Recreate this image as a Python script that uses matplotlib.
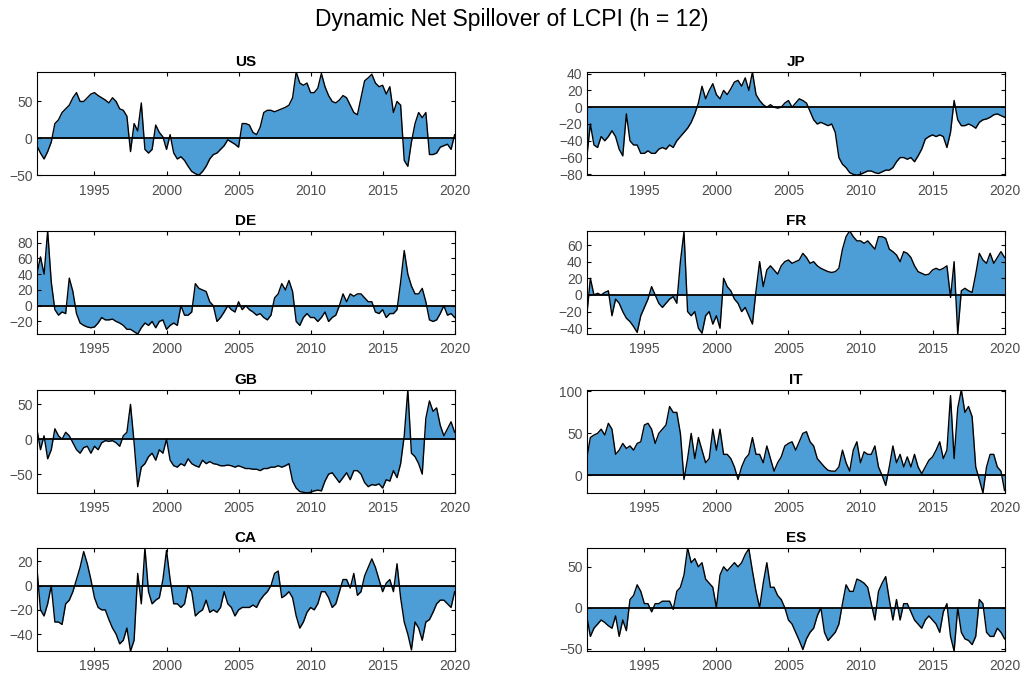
import numpy as np
import matplotlib.pyplot as plt

plt.rcParams['font.family'] = ['Liberation Sans', 'DejaVu Sans']

# quarterly sample points, 1991 .. 2020
years = np.arange(1991, 2020.01, 0.25)

us = [-10, -20, -28, -18, -5, 20, 25, 35, 40, 45, 55, 62, 50, 50, 55, 60, 62, 58, 55, 52,
      48, 55, 50, 40, 38, 30, -18, 20, 10, 48, -15, -20, -15, 18, 8, 2, -15, 5, -20, -28,
      -25, -30, -38, -45, -48, -50, -45, -38, -28, -22, -20, -15, -10, -2, -5, -8, -12, 20, 20, 18,
      8, 5, 15, 35, 38, 38, 36, 38, 40, 42, 45, 55, 90, 75, 72, 75, 62, 62, 68, 88,
      70, 58, 50, 48, 52, 58, 55, 45, 35, 32, 55, 78, 82, 87, 75, 70, 72, 60, 70, 35,
      50, 45, -30, -38, -5, 20, 35, 28, 35, -22, -22, -20, -12, -10, -8, -15, 5]
jp = [-60, -20, -45, -48, -35, -40, -35, -28, -35, -50, -58, -8, -40, -45, -45, -55, -55, -52, -55, -55,
      -50, -48, -50, -45, -48, -40, -35, -30, -25, -18, -8, 5, 25, 10, 20, 28, 15, 10, 20, 15,
      22, 30, 32, 25, 35, 20, 42, 15, 8, 3, 0, 3, 0, -1, 0, 5, 8, 0, 5, 10,
      8, 5, -5, -15, -20, -18, -20, -22, -20, -30, -60, -68, -72, -78, -80, -81, -80, -78, -76, -76,
      -78, -79, -77, -75, -75, -72, -65, -60, -60, -62, -60, -65, -58, -50, -38, -35, -33, -35, -33, -35,
      -48, -30, 8, -15, -22, -22, -20, -22, -25, -18, -15, -14, -12, -9, -8, -10, -12]
de = [40, 62, 40, 95, 30, -5, -12, -8, -10, 35, 18, -10, -22, -25, -27, -28, -27, -22, -15, -18,
      -18, -17, -20, -22, -25, -30, -30, -33, -36, -28, -22, -25, -20, -28, -20, -18, -30, -25, -22, -25,
      0, -12, -12, -8, 28, 22, 20, 18, 5, 0, -20, -15, -8, 0, -5, -8, 5, -5, 0, -5,
      -8, -12, -10, -15, -18, -12, 10, 15, 28, 20, 32, 18, -20, -25, -15, -10, -15, -15, -20, -15,
      -8, -20, -15, -12, 0, 15, 5, 15, 12, 15, 15, 10, 5, 5, -8, -10, -5, -15, -10, -10,
      -5, 30, 70, 40, 25, 15, 15, 22, 5, -18, -20, -18, -10, 0, -12, -10, -15]
fr = [-25, 20, 0, 2, 0, 3, 5, -25, -5, -10, -20, -28, -32, -38, -45, -25, -15, -5, 10, 0,
      -10, -15, -10, -5, -2, -10, 40, 76, -20, -25, -20, -40, -46, -25, -20, -35, -25, -40, 20, 10,
      5, -5, -10, -20, -15, -25, -35, 5, 40, 10, 30, 35, 30, 25, 35, 40, 42, 38, 40, 42,
      50, 45, 38, 40, 35, 32, 30, 28, 27, 28, 32, 55, 70, 77, 70, 65, 65, 62, 65, 60,
      55, 70, 70, 68, 55, 52, 48, 40, 52, 50, 45, 35, 28, 26, 24, 25, 30, 32, 30, 32,
      35, -3, 40, -47, 5, 8, 5, 3, 25, 50, 42, 38, 50, 38, 45, 52, 45]
gb = [15, -15, 5, -28, -15, 15, 5, 0, 10, 5, -5, -15, -20, -12, -10, -20, -10, -15, -5, -2,
      -3, -2, -5, -10, 5, 10, 50, -5, -68, -40, -35, -25, -20, -30, -15, -20, 0, -30, -38, -40,
      -35, -38, -28, -35, -38, -40, -30, -35, -32, -35, -36, -38, -38, -37, -38, -40, -38, -40, -42, -42,
      -43, -43, -45, -42, -42, -40, -40, -38, -40, -38, -35, -60, -70, -75, -76, -77, -76, -74, -73, -74,
      -60, -50, -48, -55, -62, -55, -48, -58, -45, -45, -50, -62, -68, -65, -66, -64, -70, -58, -60, -45,
      -55, -35, 5, 71, -20, -25, -35, -50, 30, 55, 40, 45, 20, 5, 15, 25, 10]
it = [20, 45, 48, 50, 55, 48, 62, 55, 25, 30, 38, 32, 35, 30, 38, 40, 60, 62, 55, 38,
      50, 55, 60, 82, 75, 75, 50, -5, 20, 50, 20, 45, 30, 15, 20, 55, 30, 55, 25, 25,
      20, 10, -5, 10, 20, 25, 45, 25, 25, 15, 35, 20, 5, 15, 22, 35, 38, 40, 30, 40,
      50, 52, 40, 35, 20, 15, 10, 6, 5, 5, 10, 30, 15, 5, 30, 40, 15, 28, 25, 25,
      35, 10, 0, -12, 10, 35, 15, 25, 10, 22, 10, 25, 10, 2, 10, 18, 22, 30, 40, 20,
      30, 95, 20, 80, 102, 75, 82, 70, 10, -5, -21, 10, 25, 25, 10, 5, -18]
ca = [15, -20, -25, -15, 0, -30, -30, -32, -15, -12, -5, 5, 15, 28, 18, 5, -10, -18, -20, -20,
      -28, -35, -40, -48, -45, -35, -54, -45, 10, -15, 31, -5, -15, -12, -10, 5, 29, 5, -15, -15,
      -18, -15, 0, -5, -25, -22, -20, -12, -22, -20, -22, -18, -5, -15, -18, -25, -20, -18, -18, -18,
      -16, -18, -12, -8, -5, 0, 10, 12, -10, -8, -5, -10, -25, -35, -30, -22, -18, -20, -15, -5,
      -5, -10, -18, -15, -5, 5, 5, -2, 10, -8, -5, 8, 15, 22, 15, 5, -5, 2, 5, -5,
      18, -10, -30, -40, -53, -30, -35, -45, -30, -28, -22, -15, -12, -12, -15, -18, -5]
es = [-10, -35, -25, -20, -15, -18, -22, -25, -10, -35, -15, -28, 10, 15, 28, 20, 5, 5, -5, 5,
      5, 8, 8, 8, -2, 20, 25, 40, 73, 55, 60, 50, 55, 35, 30, 25, 0, 40, 50, 45,
      50, 55, 50, 55, 65, 72, 45, 20, 0, 30, 55, 25, 25, 15, 10, 0, -15, -20, -30, -40,
      -51, -38, -30, -25, -10, 0, -30, -40, -35, -30, -20, 5, 28, 20, 20, 35, 33, 30, 25, 5,
      -15, 20, 30, 38, 10, -15, 10, -15, 5, 5, -5, -15, -20, -25, -15, -10, -15, -20, -30, -5,
      5, -35, -53, 0, -30, -38, -40, -45, -35, 10, 5, -30, -35, -35, -25, -30, -38]

names = ['US', 'JP', 'DE', 'FR', 'GB', 'IT', 'CA', 'ES']
series = [us, jp, de, fr, gb, it, ca, es]
yticks = [[-50, 0, 50], [-80, -60, -40, -20, 0, 20, 40], [-20, 0, 20, 40, 60, 80],
          [-40, -20, 0, 20, 40, 60], [-50, 0, 50], [0, 50, 100], [-40, -20, 0, 20], [-50, 0, 50]]

fill_col = '#4d9ed6'
tick_col = '#4d4d4d'

fig = plt.figure(figsize=(10.24, 6.79), dpi=100)
fig.suptitle('Dynamic Net Spillover of LCPI (h = 12)', fontsize=16.5, y=0.988)

lefts = [0.036, 0.573]
bottoms = [0.742, 0.508, 0.274, 0.041]
w, h = 0.408, 0.152

for i, (name, vals) in enumerate(zip(names, series)):
    vals = np.array(vals, dtype=float)
    ax = fig.add_axes([lefts[i % 2], bottoms[i // 2], w, h])
    ax.fill_between(years, vals, 0, color=fill_col, linewidth=0)
    ax.plot(years, vals, color='black', lw=1.0)
    ax.axhline(0, color='black', lw=1.3)
    ax.set_xlim(years[0], years[-1])
    ax.set_ylim(vals.min(), vals.max())
    ax.set_xticks([1995, 2000, 2005, 2010, 2015, 2020])
    ax.set_yticks(yticks[i])
    ax.tick_params(direction='in', length=3, labelsize=10, labelcolor=tick_col,
                   top=True, right=True)
    ax.tick_params(axis='x', pad=6)
    ax.tick_params(axis='y', pad=3)
    ax.set_title(name, fontsize=11, fontweight='bold', pad=4)
    for s in ax.spines.values():
        s.set_linewidth(0.8)

plt.savefig('out.png', dpi=100)
